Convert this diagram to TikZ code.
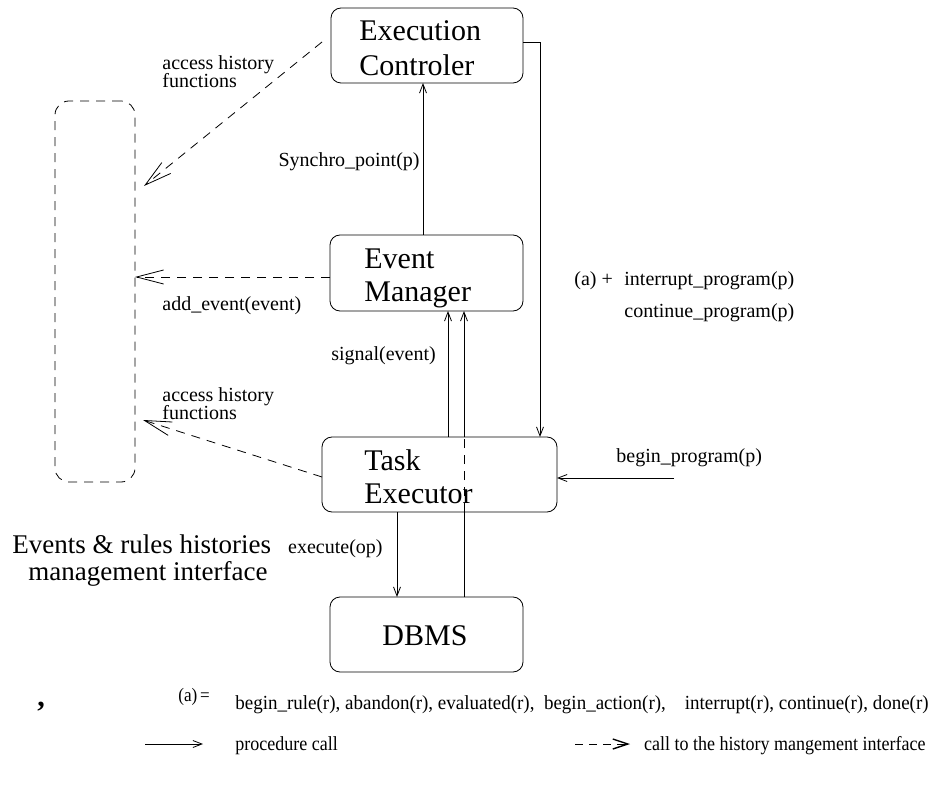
\documentclass[tikz,border=0pt]{standalone}
\usepackage{fontspec}
\setmainfont{Liberation Serif}
\usetikzlibrary{arrows.meta,calc}
\begin{document}
\begin{tikzpicture}[x=1pt,y=-1pt,line width=0.8pt,
  box/.style={draw,rounded corners=10pt,inner sep=0pt,outer sep=0pt},
  histbox/.style={draw,dash pattern=on 9pt off 7pt,rounded corners=14pt,inner sep=0pt,outer sep=0pt},
  big/.style={font=\fontsize{30}{33}\selectfont,inner sep=0pt},
  lbl/.style={font=\fontsize{20}{22}\selectfont,inner sep=0pt},
  captxt/.style={font=\fontsize{27}{30}\selectfont,inner sep=0pt},
  pc/.style={-{Straight Barb[length=9pt,width=7pt]}},
  hc/.style={dash pattern=on 9pt off 7pt,-{Straight Barb[length=27pt,width=14pt]}}]
\useasboundingbox (0,0) rectangle (932,786);

% boxes
\node[box,minimum width=192pt,minimum height=75pt] (ec) at (427,45.5) {};
\node[box,minimum width=193pt,minimum height=76pt] (em) at (426.5,273) {};
\node[box,minimum width=235pt,minimum height=75pt] (te) at (439.5,474.5) {};
\node[box,minimum width=193pt,minimum height=75pt] (db) at (426.5,634.5) {};
\node[histbox,minimum width=80pt,minimum height=381pt] (hist) at (95,291.5) {};

% box texts
\node[big,anchor=base west] (ect1) at (359,41) {Execution};
\node[big,anchor=base west] (ect2) at (359,76) {Controler};
\node[big,anchor=base west] (emt1) at (364,269) {Event};
\node[big,anchor=base west] (emt2) at (364,302) {Manager};
\node[big,anchor=base west] (tet1) at (364,470) {Task};
\node[big,anchor=base west] (tet2) at (364,503) {Executor};
\node[big,anchor=base] (dbt) at (425,645) {DBMS};
\node[captxt,anchor=base west] (ht1) at (12,553) {Events \& rules histories};
\node[captxt,anchor=base west] (ht2) at (28,580) {management interface};

% helper coordinates
\coordinate (xs) at (423,0);
\coordinate (rl) at (540,42);
\coordinate (s1) at (448,0);
\coordinate (s2) at (464,0);
\coordinate (ex) at (397,0);
\coordinate (bp) at (674,478);
\coordinate (ecd) at (322,42);
\coordinate (h1) at (144,186);
\coordinate (emd) at (0,277);
\coordinate (ted) at (0,477);
\coordinate (h3) at (143,420);

% procedure calls
\draw[pc] (em.north -| xs) -- (ec.south -| xs);
\draw[pc] (ec.east |- rl) -- (rl) -- (te.north -| rl);
\draw[pc] (te.north -| s1) -- (em.south -| s1);
\draw (db.north -| s2) -- (te.south -| s2);
\draw[dash pattern=on 9pt off 7pt] (te.south -| s2) -- (te.north -| s2);
\draw[pc] (te.north -| s2) -- (em.south -| s2);
\draw[pc] (te.south -| ex) -- (db.north -| ex);
\draw[pc] (bp) -- (te.east |- bp);

% history calls
\draw[hc] (ecd) -- (h1);
\draw[hc] (em.west |- emd) -- (hist.east |- emd);
\draw[hc] (te.west |- ted) -- (h3);

% labels
\node[lbl,anchor=base west] (l1a) at (162,70) {access history};
\node[lbl,anchor=base west] (l1b) at (162,88) {functions};
\node[lbl,anchor=base east] (lsy) at (420,167) {Synchro\_point(p)};
\node[lbl,anchor=base west] (lae) at (162,311) {add\_event(event)};
\node[lbl,anchor=base west] (l2a) at (162,401) {access history};
\node[lbl,anchor=base west] (l2b) at (162,419) {functions};
\node[lbl,anchor=base west] (lsig) at (331,360) {signal(event)};
\node[lbl,anchor=base west] (la) at (574,286) {(a) +};
\node[lbl,anchor=base west] (lint) at (624,286) {interrupt\_program(p)};
\node[lbl,anchor=base west] (lcon) at (624,318) {continue\_program(p)};
\node[lbl,anchor=base west] (lbp) at (616,462) {begin\_program(p)};
\node[lbl,anchor=base east] (lex) at (383,553) {execute(op)};

% bottom
\node[font=\bfseries\fontsize{30}{30}\selectfont,inner sep=0pt,anchor=base west] (comma) at (37,706) {,};
\node[font=\fontsize{19}{20}\selectfont,inner sep=0pt,anchor=base west] (aeq) at (178,701) {\scalebox{0.9}[1]{(a)\,=}};
\node[lbl,anchor=base west] (alist) at (235,709) {\scalebox{0.95}[1]{begin\_rule(r), abandon(r), evaluated(r),\ \ begin\_action(r),\ \ \ \ interrupt(r), continue(r), done(r)}};

\coordinate (lg1a) at (145,744);
\coordinate (lg1b) at (203,744);
\draw[pc] (lg1a) -- (lg1b);
\node[lbl,anchor=base west] (lpc) at (235,750) {\scalebox{0.9}[1]{procedure call}};
\coordinate (lg2a) at (575,744);
\coordinate (lg2b) at (630,744);
\draw[dash pattern=on 8pt off 6pt,-{Straight Barb[length=15pt,width=10pt,line width=1.4pt]}] (lg2a) -- (lg2b);
\node[lbl,anchor=base east] (lhc) at (926,750) {\scalebox{0.9}[1]{call to the history mangement interface}};
\end{tikzpicture}
\end{document}
